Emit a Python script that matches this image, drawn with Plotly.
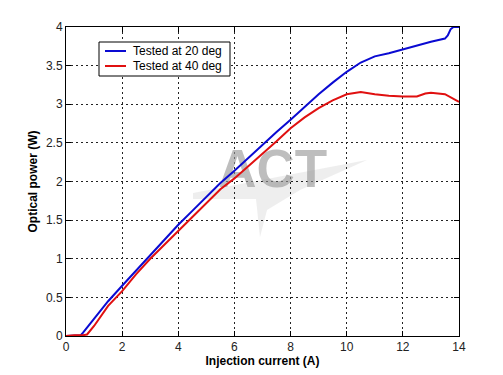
import plotly.graph_objects as go

# Data
current_20 = [0, 0.3, 0.53, 0.6, 1.0, 1.5, 2.0, 2.5, 3.0, 3.5, 4.0, 4.5, 5.0, 5.5, 6.0, 6.5, 7.0, 7.5,
              8.0, 8.5, 9.0, 9.5, 10.0, 10.5, 11.0, 11.5, 12.0, 12.5, 13.0, 13.5, 13.6, 13.7, 13.8, 14.0]
power_20 = [0, 0.01, 0.01, 0.04, 0.22, 0.45, 0.65, 0.85, 1.05, 1.25, 1.44, 1.62, 1.8, 1.98, 2.14, 2.31, 2.47, 2.64,
            2.8, 2.97, 3.13, 3.28, 3.42, 3.54, 3.62, 3.66, 3.71, 3.77, 3.81, 3.85, 3.89, 3.97, 4.0, 4.0]

current_40 = [0, 0.3, 0.6, 0.75, 1.0, 1.5, 2.0, 2.5, 3.0, 3.5, 4.0, 4.5, 5.0, 5.5, 6.0, 6.5, 7.0, 7.5,
              8.0, 8.5, 9.0, 9.5, 10.0, 10.5, 11.0, 11.5, 12.0, 12.5, 12.8, 13.0, 13.5, 14.0]
power_40 = [0, 0.01, 0.01, 0.02, 0.13, 0.39, 0.58, 0.8, 1.0, 1.18, 1.36, 1.55, 1.72, 1.9, 2.04, 2.2, 2.35, 2.52,
            2.69, 2.83, 2.95, 3.05, 3.13, 3.16, 3.13, 3.11, 3.1, 3.1, 3.14, 3.15, 3.13, 3.03]

x_ticks = [0, 2, 4, 6, 8, 10, 12, 14]
y_ticks = [0, 0.5, 1, 1.5, 2, 2.5, 3, 3.5, 4]
y_tick_labels = ["0", "0.5", "1", "1.5", "2", "2.5", "3", "3.5", "4"]

series_names = ["Tested at 20 deg", "Tested at 40 deg"]
series_colors = ["#0a0ad2", "#e01010"]
x_title = "Injection current (A)"
y_title = "Optical power (W)"
watermark = "ACT"

FONT = "Liberation Sans, Arial, sans-serif"

fig = go.Figure()

# watermark text (drawn below the data lines)
fig.add_trace(go.Scatter(
    x=[7.36], y=[2.1], mode="text", text=[f"<b>{watermark}</b>"],
    textfont=dict(family=FONT, size=53, color="rgba(150,150,150,0.62)"),
    showlegend=False, hoverinfo="skip"))

fig.add_trace(go.Scatter(x=current_20, y=power_20, mode="lines", name=series_names[0],
                         line=dict(color=series_colors[0], width=2), cliponaxis=False,
                         showlegend=False))
fig.add_trace(go.Scatter(x=current_40, y=power_40, mode="lines", name=series_names[1],
                         line=dict(color=series_colors[1], width=2), showlegend=False))

def px2paper(px, py):
    return (px - 66) / 393.0, (336 - py) / 309.0

# watermark swoosh
swoosh_px = [(193, 193), (367, 160), (300, 190), (267, 210), (260, 237), (256, 199), (193, 199)]
pts = [px2paper(a, b) for a, b in swoosh_px]
path = "M " + " L ".join(f"{a:.4f},{b:.4f}" for a, b in pts) + " Z"
fig.add_shape(type="path", path=path, xref="paper", yref="paper",
              fillcolor="rgba(200,200,200,0.3)", line=dict(width=0), layer="below")

# MATLAB-style legend box
bx0, by0 = px2paper(99, 76)
bx1, by1 = px2paper(230, 42)
fig.add_shape(type="rect", xref="paper", yref="paper", x0=bx0, y0=by0, x1=bx1, y1=by1,
              fillcolor="white", line=dict(color="black", width=1), layer="above")
for i, (name, col) in enumerate(zip(series_names, series_colors)):
    lx0, ly = px2paper(105, 51 + 15 * i)
    lx1, _ = px2paper(126, 51 + 15 * i)
    tx, _ = px2paper(131, 51 + 15 * i)
    fig.add_shape(type="line", xref="paper", yref="paper", x0=lx0, x1=lx1, y0=ly, y1=ly,
                  line=dict(color=col, width=2), layer="above")
    fig.add_annotation(x=tx, y=ly, xref="paper", yref="paper", text=name, showarrow=False,
                       xanchor="left", yanchor="middle",
                       font=dict(family=FONT, size=12, color="black"))

axis_common = dict(
    showline=True, linecolor="black", linewidth=1, mirror="ticks",
    ticks="inside", ticklen=5, tickcolor="black", tickwidth=1,
    showgrid=True, gridcolor="#222222", gridwidth=1, griddash="2px,3px",
    zeroline=False, tickfont=dict(family=FONT, size=12, color="#222222"),
    automargin=False,
)

fig.update_xaxes(range=[0, 14], tickvals=x_ticks, **axis_common,
                 title=dict(text=f"<b>{x_title}</b>", font=dict(family=FONT, size=12, color="black"),
                            standoff=3))
fig.update_yaxes(range=[0, 4], tickvals=y_ticks, ticktext=y_tick_labels, **axis_common,
                 title=dict(text=f"<b>{y_title}</b>", font=dict(family=FONT, size=12, color="black"),
                            standoff=5))

fig.update_layout(
    width=503, height=375,
    margin=dict(l=66, r=44, t=27, b=39, autoexpand=False),
    paper_bgcolor="white", plot_bgcolor="white",
    font=dict(family=FONT, size=12, color="black"),
    showlegend=False,
)

fig.write_html("out.html", config={"displayModeBar": False},
               post_script="document.body.style.margin='0px';")
